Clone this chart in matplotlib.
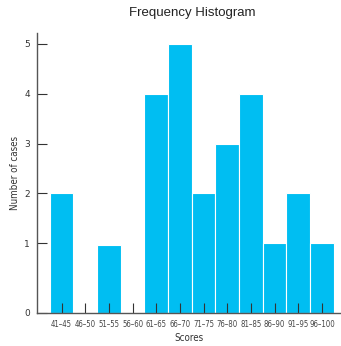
import numpy as np
import matplotlib.pyplot as plt

# score ranges and number of cases in each
bins = ["41\u201345", "46\u201350", "51\u201355", "56\u201360", "61\u201365", "66\u201370",
        "71\u201375", "76\u201380", "81\u201385", "86\u201390", "91\u201395", "96\u2013100"]
counts = [2, 0, 0.97, 0, 4, 5, 2, 3, 4, 1, 2, 1]
yticks = [0, 1, 2, 3, 4, 5]


# the printed axis gives the 0-1 step more room than the rest
def forward(v):
    v = np.asarray(v, dtype=float)
    return np.where(v >= 1, v + 0.4, v * 1.4)


def inverse(u):
    u = np.asarray(u, dtype=float)
    return np.where(u >= 1.4, u - 0.4, u / 1.4)


fig = plt.figure(figsize=(3.41, 3.46), dpi=100)
ax = fig.add_axes([0.1085, 0.0954, 0.8885, 0.8092])

x = np.arange(len(bins))
ax.bar(x, counts, width=1.0, color="#00BEF2", edgecolor="white", linewidth=0.8)

ax.set_yscale("function", functions=(forward, inverse))
ax.set_ylim(0, 5.22)
ax.set_xlim(-1.04, 11.76)

ax.set_yticks(yticks)
ax.set_yticklabels([str(t) for t in yticks], fontsize=6.5, color="#333333")
ax.set_xticks(x)
ax.set_xticklabels(bins, fontsize=5.6, color="#444444", fontstretch="condensed",
                   family=["DejaVu Sans"])
ax.tick_params(axis="both", direction="in", length=7, width=0.8, color="#333333")
ax.tick_params(axis="x", pad=5)
ax.tick_params(axis="y", pad=5)
ax.minorticks_off()

for side in ["top", "right"]:
    ax.spines[side].set_visible(False)
for side in ["left", "bottom"]:
    ax.spines[side].set_color("#555555")
    ax.spines[side].set_linewidth(1.0)

ax.set_xlabel("Scores", fontsize=7, color="#333333", labelpad=3, fontstretch="condensed")
ax.set_ylabel("Number of cases", fontsize=7, color="#333333", labelpad=3,
              fontstretch="condensed")
fig.text(0.565, 0.962, "Frequency Histogram", ha="center", va="center",
         fontsize=9.5, color="#222222", family=["Liberation Sans", "DejaVu Sans"])

fig.savefig("out.png", dpi=100)
